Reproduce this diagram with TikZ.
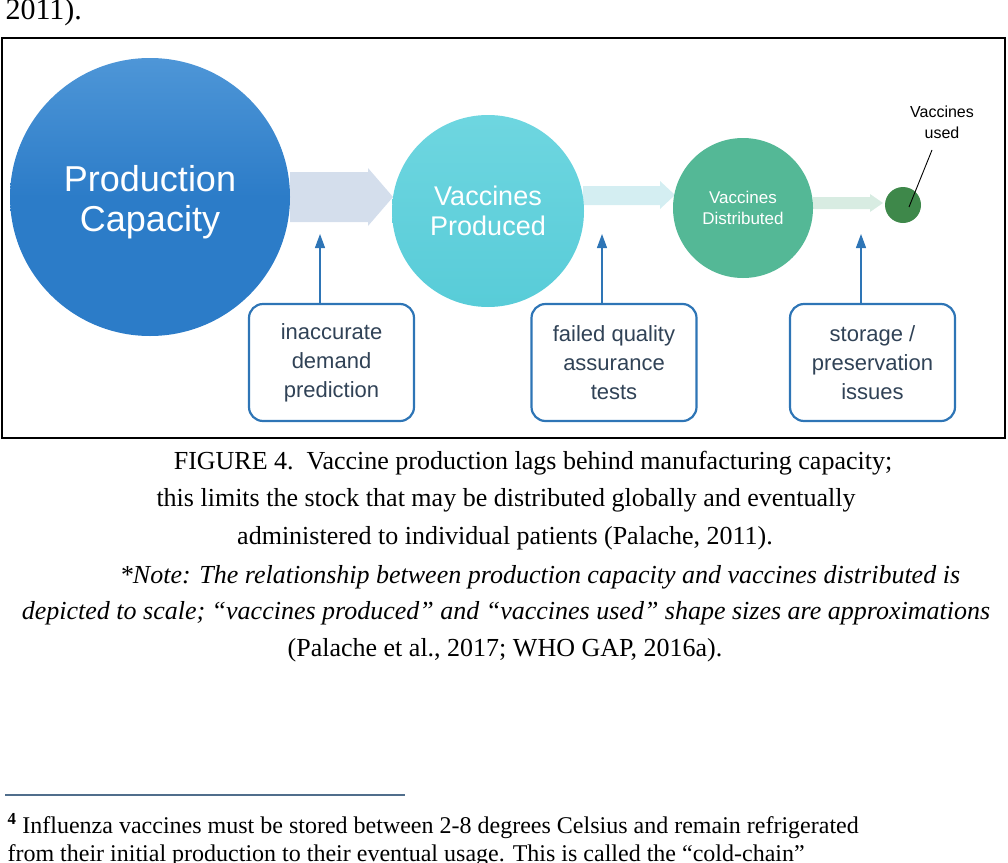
\documentclass[tikz,border=0pt]{standalone}
\usepackage{fontspec}
\setmainfont{Liberation Serif}
\newfontfamily\arialf{Liberation Sans}
\usetikzlibrary{arrows.meta}
\definecolor{bluebig}{RGB}{44,124,200}
\definecolor{bluetop}{RGB}{78,150,215}
\definecolor{cyanc}{RGB}{88,204,216}
\definecolor{cyantop}{RGB}{110,214,224}
\definecolor{greenc}{RGB}{84,184,150}
\definecolor{dotc}{RGB}{62,136,74}
\definecolor{arr1}{RGB}{212,222,236}
\definecolor{arr2}{RGB}{212,238,242}
\definecolor{arr3}{RGB}{216,236,226}
\definecolor{boxb}{RGB}{46,117,182}
\definecolor{boxt}{RGB}{48,66,86}
\tikzset{
  lbl/.style={text=white, align=center},
  issue/.style={draw=boxb, line width=2.2pt, rounded corners=14pt, minimum width=165pt, minimum height=117pt, text=boxt, font=\arialf\fontsize{22}{29}\selectfont, align=center},
  up/.style={draw=boxb, line width=1.2pt, -{Triangle[width=10pt,length=14pt]}},
  captxt/.style={font=\fontsize{26}{30}\selectfont, anchor=center},
}
\begin{document}
\begin{tikzpicture}[x=1pt,y=-1pt]
\useasboundingbox (0,0) rectangle (1008,862);
\node[anchor=west, font=\fontsize{30}{30}\selectfont] (top) at (2,12) {2011).};
\draw[line width=2pt] (2,38) rectangle (1005,438);
% arrows
\fill[arr1] (290,172) -- (368,172) -- (368,168) -- (393,197) -- (368,226) -- (368,222) -- (290,222) -- cycle;
\fill[arr2] (583,186) -- (660,186) -- (660,181) -- (675,195) -- (660,209) -- (660,205) -- (583,205) -- cycle;
\fill[arr3] (813,197) -- (870,197) -- (870,194) -- (883,203) -- (870,212) -- (870,209) -- (813,209) -- cycle;
% circles
\shade[top color=bluetop, bottom color=bluebig, middle color=bluebig] (150,197) ellipse [x radius=140, y radius=139];
\node[lbl, font=\arialf\fontsize{36}{40}\selectfont] (pc) at (150,202) {Production\\Capacity};
\shade[top color=cyantop, bottom color=cyanc] (488,211) ellipse [x radius=96, y radius=96];
\node[lbl, font=\arialf\fontsize{27}{30}\selectfont] (vp) at (488,211) {Vaccines\\Produced};
\fill[greenc] (743,208) circle (70);
\node[lbl, font=\arialf\fontsize{17}{21}\selectfont] (vd) at (743,208) {Vaccines\\Distributed};
\fill[dotc] (903,205) circle (18);
\coordinate (dot) at (909,207);
\node[font=\arialf\fontsize{16}{21}\selectfont, align=center] (vu) at (942,122) {Vaccines\\used};
\coordinate (vuf) at (932,150);
\draw[line width=0.9pt] (vuf) -- (dot);
% issue boxes
\node[issue] (b1) at (331.5,362.5) {inaccurate\\demand\\prediction};
\node[issue] (b2) at (614,362.5) {failed quality\\assurance\\tests};
\node[issue] (b3) at (872.5,362.5) {storage /\\preservation\\issues};
\coordinate (t1) at (320,234);
\coordinate (t2) at (602,234);
\coordinate (t3) at (861,234);
\draw[up] (t1 |- b1.north) -- (t1);
\draw[up] (t2 |- b2.north) -- (t2);
\draw[up] (t3 |- b3.north) -- (t3);
% caption
\node[captxt] (c1) at (533,463) {FIGURE 4.\ \ Vaccine production lags behind manufacturing capacity;};
\node[captxt] (c2) at (506,500) {this limits the stock that may be distributed globally and eventually};
\node[captxt] (c3) at (505,538) {administered to individual patients (Palache, 2011).};
\node[captxt, font=\itshape\fontsize{26}{30}\selectfont] (c4) at (540,577) {*Note: The relationship between production capacity and vaccines distributed is};
\node[captxt, font=\itshape\fontsize{26}{30}\selectfont] (c5) at (506,613) {depicted to scale; “vaccines produced” and “vaccines used” shape sizes are approximations};
\node[captxt] (c6) at (505,650) {(Palache et al., 2017; WHO GAP, 2016a).};
% footnote
\draw[line width=1.5pt, draw={rgb,255:red,80;green,110;blue,140}] (5,795) -- (405,795);
\node[anchor=west, font=\fontsize{24}{28}\selectfont] (f1) at (4,826) {\textsuperscript{\textbf{4}} Influenza vaccines must be stored between 2-8 degrees Celsius and remain refrigerated};
\node[anchor=west, font=\fontsize{24}{28}\selectfont] (f2) at (4,856) {from their initial production to their eventual usage. This is called the “cold-chain”};
\end{tikzpicture}
\end{document}
